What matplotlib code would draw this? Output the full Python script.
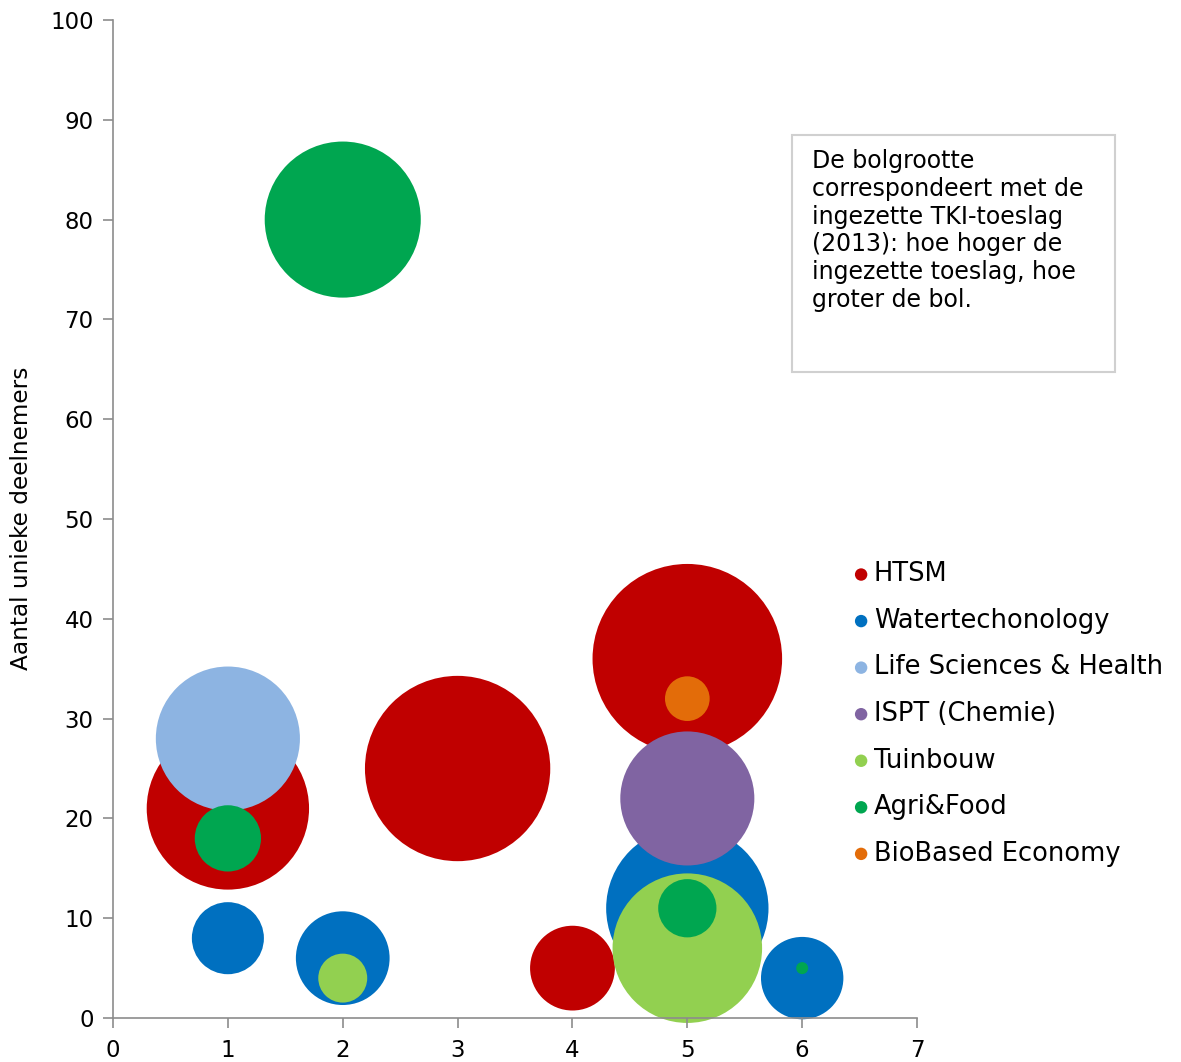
import matplotlib
matplotlib.use("Agg")
import matplotlib.pyplot as plt
from matplotlib.patches import Rectangle

# bubble data per TKI: x, unique participants, bubble size (TKI-toeslag, relative)
series = ["HTSM", "Watertechonology", "Life Sciences & Health", "ISPT (Chemie)",
          "Tuinbouw", "Agri&Food", "BioBased Economy"]
colors = ["#C00000", "#0070C0", "#8DB4E2", "#8064A2", "#92D050", "#00A650", "#E36C09"]

htsm_x = [1, 3, 4, 5]
htsm_y = [21, 25, 5, 36]
htsm_s = [66, 86, 18, 90]

water_x = [1, 2, 5, 6]
water_y = [8, 6, 11, 4]
water_s = [13, 22, 66, 17]

lsh_x = [1]
lsh_y = [28]
lsh_s = [52]

ispt_x = [5]
ispt_y = [22]
ispt_s = [45]

tuin_x = [2, 5]
tuin_y = [4, 7]
tuin_s = [6, 56]

agri_x = [2, 1, 5, 6]
agri_y = [80, 18, 11, 5]
agri_s = [61, 11, 8.5, 0.36]

bio_x = [5]
bio_y = [32]
bio_s = [5]

data = [
    (htsm_x, htsm_y, htsm_s),
    (water_x, water_y, water_s),
    (lsh_x, lsh_y, lsh_s),
    (ispt_x, ispt_y, ispt_s),
    (tuin_x, tuin_y, tuin_s),
    (agri_x, agri_y, agri_s),
    (bio_x, bio_y, bio_s),
]

SCALE = 207  # size value -> marker area (pt^2)

fig = plt.figure(figsize=(11.81, 10.62), dpi=100)
ax = fig.add_axes([0.0957, 0.0414, 0.6808, 0.9398])

for name, col, (xs, ys, ss) in zip(series, colors, data):
    ax.scatter(xs, ys, s=[v * SCALE for v in ss], color=col, edgecolors="none",
               label=name, clip_on=False)

ax.set_xlim(0, 7)
ax.set_ylim(0, 100)
ax.set_xticks(range(0, 8))
ax.set_yticks(range(0, 101, 10))
for side in ["top", "right"]:
    ax.spines[side].set_visible(False)
for side in ["left", "bottom"]:
    ax.spines[side].set_color("#8c8c8c")
    ax.spines[side].set_linewidth(1.2)
ax.tick_params(colors="#8c8c8c", labelcolor="black", labelsize=16.5,
               length=7, width=1.2, direction="out")
ax.tick_params(axis="x", pad=8)
ax.tick_params(axis="y", pad=7)

fig.text(22 / 1181, 1 - 518 / 1062, "Aantal unieke deelnemers", rotation=90,
         ha="center", va="center", fontsize=16.7)

leg = ax.legend(loc="upper left", bbox_to_anchor=(838 / 1181, 1 - 551 / 1062),
                bbox_transform=fig.transFigure, frameon=False, fontsize=18.5,
                markerscale=1, handletextpad=0.0, labelspacing=0.8,
                handlelength=1.0, borderaxespad=0)
for h in leg.legend_handles:
    h.set_sizes([80])

# annotation box
fig.patches.append(Rectangle((792 / 1181, 1 - 372 / 1062), 323 / 1181, 237 / 1062,
                             transform=fig.transFigure, facecolor="white",
                             edgecolor="#d0d0d0", linewidth=1.5))
fig.text(812 / 1181, 1 - 149 / 1062,
         "De bolgrootte\ncorrespondeert met de\ningezette TKI-toeslag\n"
         "(2013): hoe hoger de\ningezette toeslag, hoe\ngroter de bol.",
         ha="left", va="top", fontsize=17, linespacing=1.2)

fig.savefig("out.png", dpi=100)
